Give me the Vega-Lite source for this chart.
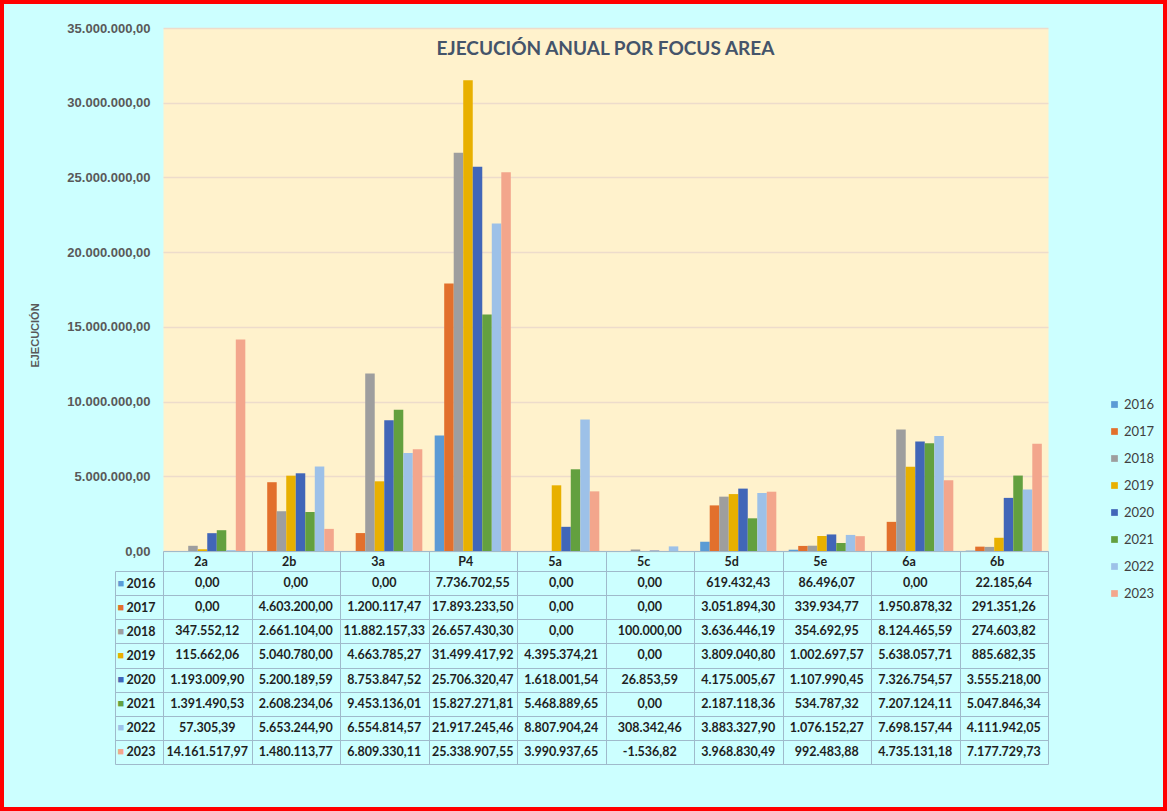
{
  "$schema": "https://vega.github.io/schema/vega-lite/v6.json",
  "width": 1167,
  "height": 811,
  "autosize": "none",
  "padding": 0,
  "background": "#CCFFFF",
  "config": {
    "view": {"fill": "#CCFFFF", "stroke": "#FF0000", "strokeWidth": 8},
    "locale": {"number": {"decimal": ",", "thousands": ".", "grouping": [3], "currency": ["", "€"], "minus": "-"}}
  },
  "title": {
    "text": "EJECUCIÓN ANUAL POR FOCUS AREA",
    "anchor": "middle",
    "dx": 22,
    "offset": -65,
    "font": "Lato",
    "fontSize": 19,
    "fontWeight": "bold",
    "color": "#44546A"
  },
  "data": {
    "values": [
      {"area": "2a", "year": "2016", "value": 0},
      {"area": "2a", "year": "2017", "value": 0},
      {"area": "2a", "year": "2018", "value": 347552.12},
      {"area": "2a", "year": "2019", "value": 115662.06},
      {"area": "2a", "year": "2020", "value": 1193009.90},
      {"area": "2a", "year": "2021", "value": 1391490.53},
      {"area": "2a", "year": "2022", "value": 57305.39},
      {"area": "2a", "year": "2023", "value": 14161517.97},
      {"area": "2b", "year": "2016", "value": 0},
      {"area": "2b", "year": "2017", "value": 4603200.00},
      {"area": "2b", "year": "2018", "value": 2661104.00},
      {"area": "2b", "year": "2019", "value": 5040780.00},
      {"area": "2b", "year": "2020", "value": 5200189.59},
      {"area": "2b", "year": "2021", "value": 2608234.06},
      {"area": "2b", "year": "2022", "value": 5653244.90},
      {"area": "2b", "year": "2023", "value": 1480113.77},
      {"area": "3a", "year": "2016", "value": 0},
      {"area": "3a", "year": "2017", "value": 1200117.47},
      {"area": "3a", "year": "2018", "value": 11882157.33},
      {"area": "3a", "year": "2019", "value": 4663785.27},
      {"area": "3a", "year": "2020", "value": 8753847.52},
      {"area": "3a", "year": "2021", "value": 9453136.01},
      {"area": "3a", "year": "2022", "value": 6554814.57},
      {"area": "3a", "year": "2023", "value": 6809330.11},
      {"area": "P4", "year": "2016", "value": 7736702.55},
      {"area": "P4", "year": "2017", "value": 17893233.50},
      {"area": "P4", "year": "2018", "value": 26657430.30},
      {"area": "P4", "year": "2019", "value": 31499417.92},
      {"area": "P4", "year": "2020", "value": 25706320.47},
      {"area": "P4", "year": "2021", "value": 15827271.81},
      {"area": "P4", "year": "2022", "value": 21917245.46},
      {"area": "P4", "year": "2023", "value": 25338907.55},
      {"area": "5a", "year": "2016", "value": 0},
      {"area": "5a", "year": "2017", "value": 0},
      {"area": "5a", "year": "2018", "value": 0},
      {"area": "5a", "year": "2019", "value": 4395374.21},
      {"area": "5a", "year": "2020", "value": 1618001.54},
      {"area": "5a", "year": "2021", "value": 5468889.65},
      {"area": "5a", "year": "2022", "value": 8807904.24},
      {"area": "5a", "year": "2023", "value": 3990937.65},
      {"area": "5c", "year": "2016", "value": 0},
      {"area": "5c", "year": "2017", "value": 0},
      {"area": "5c", "year": "2018", "value": 100000.00},
      {"area": "5c", "year": "2019", "value": 0},
      {"area": "5c", "year": "2020", "value": 26853.59},
      {"area": "5c", "year": "2021", "value": 0},
      {"area": "5c", "year": "2022", "value": 308342.46},
      {"area": "5c", "year": "2023", "value": -1536.82},
      {"area": "5d", "year": "2016", "value": 619432.43},
      {"area": "5d", "year": "2017", "value": 3051894.30},
      {"area": "5d", "year": "2018", "value": 3636446.19},
      {"area": "5d", "year": "2019", "value": 3809040.80},
      {"area": "5d", "year": "2020", "value": 4175005.67},
      {"area": "5d", "year": "2021", "value": 2187118.36},
      {"area": "5d", "year": "2022", "value": 3883327.90},
      {"area": "5d", "year": "2023", "value": 3968830.49},
      {"area": "5e", "year": "2016", "value": 86496.07},
      {"area": "5e", "year": "2017", "value": 339934.77},
      {"area": "5e", "year": "2018", "value": 354692.95},
      {"area": "5e", "year": "2019", "value": 1002697.57},
      {"area": "5e", "year": "2020", "value": 1107990.45},
      {"area": "5e", "year": "2021", "value": 534787.32},
      {"area": "5e", "year": "2022", "value": 1076152.27},
      {"area": "5e", "year": "2023", "value": 992483.88},
      {"area": "6a", "year": "2016", "value": 0},
      {"area": "6a", "year": "2017", "value": 1950878.32},
      {"area": "6a", "year": "2018", "value": 8124465.59},
      {"area": "6a", "year": "2019", "value": 5638057.71},
      {"area": "6a", "year": "2020", "value": 7326754.57},
      {"area": "6a", "year": "2021", "value": 7207124.11},
      {"area": "6a", "year": "2022", "value": 7698157.44},
      {"area": "6a", "year": "2023", "value": 4735131.18},
      {"area": "6b", "year": "2016", "value": 22185.64},
      {"area": "6b", "year": "2017", "value": 291351.26},
      {"area": "6b", "year": "2018", "value": 274603.82},
      {"area": "6b", "year": "2019", "value": 885682.35},
      {"area": "6b", "year": "2020", "value": 3555218.00},
      {"area": "6b", "year": "2021", "value": 5047846.34},
      {"area": "6b", "year": "2022", "value": 4111942.05},
      {"area": "6b", "year": "2023", "value": 7177729.73}
    ]
  },
  "layer": [
    {
      "mark": {"type": "text", "opacity": 0},
      "encoding": {
        "x": {
          "field": "area",
          "type": "nominal",
          "sort": ["2a", "2b", "3a", "P4", "5a", "5c", "5d", "5e", "6a", "6b"],
          "scale": {"domain": ["2a", "2b", "3a", "P4", "5a", "5c", "5d", "5e", "6a", "6b"], "range": [163, 1048], "paddingInner": 0, "paddingOuter": 0}
        },
        "y": {
          "datum": 0,
          "type": "quantitative",
          "scale": {"domain": [0, 35000000], "range": [551, 28], "nice": false},
          "axis": {"values": [17500000], "grid": true, "gridColor": "#FFF2CC", "gridOpacity": 1, "gridWidth": 523, "labels": false, "ticks": false, "domain": false, "title": null}
        },
        "text": {"value": ""}
      }
    },
    {
      "mark": {"type": "bar"},
      "encoding": {
        "x": {
          "field": "area",
          "type": "nominal",
          "sort": ["2a", "2b", "3a", "P4", "5a", "5c", "5d", "5e", "6a", "6b"],
          "scale": {"domain": ["2a", "2b", "3a", "P4", "5a", "5c", "5d", "5e", "6a", "6b"], "range": [163, 1048], "paddingInner": 0, "paddingOuter": 0},
          "axis": {
            "orient": "bottom", "offset": -260, "title": null, "labelAngle": 0,
            "tickBand": "extent", "tickSize": 213, "tickColor": "#9FBACB", "domainColor": "#9FBACB",
            "labelPadding": -203, "labelBaseline": "middle", "labelFont": "Lato", "labelFontWeight": "bold",
            "labelFontSize": 12.5, "labelColor": "#1F1F1F", "grid": false
          }
        },
        "xOffset": {"field": "year", "type": "nominal", "scale": {"paddingInner": 0, "paddingOuter": 0.65}},
        "y": {
          "field": "value",
          "type": "quantitative",
          "scale": {"domain": [0, 35000000], "range": [551, 28], "nice": false},
          "axis": {
            "orient": "left", "offset": -163,
            "values": [0, 5000000, 10000000, 15000000, 20000000, 25000000, 30000000, 35000000],
            "format": ",.2f", "labelFont": "Liberation Sans", "labelFontWeight": "bold", "labelFontSize": 13,
            "labelColor": "#595959", "labelPadding": 13, "ticks": false, "domain": false,
            "grid": true, "gridColor": "#EDDCCB", "gridWidth": 1.5,
            "title": "EJECUCIÓN", "titleFont": "Liberation Sans", "titleFontSize": 11, "titleFontWeight": "bold",
            "titleColor": "#595959", "titlePadding": 26, "titleY": 335
          }
        },
        "color": {
          "field": "year",
          "type": "nominal",
          "scale": {
            "domain": ["2016", "2017", "2018", "2019", "2020", "2021", "2022", "2023"],
            "range": ["#5B9BD5", "#E2702C", "#9E9E9E", "#E8B000", "#4166B8", "#63A03F", "#9DC1E8", "#F3A68C"]
          },
          "legend": {
            "orient": "none", "legendX": 1108, "legendY": 398, "title": null,
            "symbolType": "square", "symbolSize": 45, "symbolStrokeWidth": 0,
            "labelFont": "Lato", "labelFontSize": 13, "labelColor": "#404040",
            "rowPadding": 13, "labelOffset": 3, "padding": 0
          }
        }
      }
    },
    {
      "mark": {"type": "text", "font": "Lato", "fontWeight": "bold", "fontSize": 12.5, "color": "#1F1F1F"},
      "encoding": {
        "x": {"field": "area", "type": "nominal"},
        "y": {
          "field": "year",
          "type": "nominal",
          "scale": {"range": [571, 764], "paddingInner": 0, "paddingOuter": 0},
          "axis": {
            "orient": "left", "offset": -163, "title": null, "tickBand": "extent", "tickSize": 48,
            "tickColor": "#9FBACB", "domain": false, "grid": true, "gridColor": "#9FBACB", "gridOpacity": 1,
            "labelAlign": "left", "labelPadding": -11, "labelFont": "Lato", "labelFontWeight": "bold",
            "labelFontSize": 12.5, "labelColor": "#1F1F1F"
          }
        },
        "text": {"field": "value", "type": "quantitative", "format": ",.2f"}
      }
    },
    {
      "mark": {"type": "text", "opacity": 0},
      "encoding": {
        "y": {
          "field": "year",
          "type": "nominal",
          "scale": {"range": [571, 764], "paddingInner": 0, "paddingOuter": 0},
          "axis": {
            "orient": "left", "offset": -115, "title": null, "ticks": false, "grid": false,
            "domain": true, "domainColor": "#9FBACB", "labelExpr": "'■'", "labelAlign": "left",
            "labelPadding": -2, "labelFontSize": 11,
            "labelColor": {
              "condition": [
                {"test": "datum.value == '2016'", "value": "#5B9BD5"},
                {"test": "datum.value == '2017'", "value": "#E2702C"},
                {"test": "datum.value == '2018'", "value": "#9E9E9E"},
                {"test": "datum.value == '2019'", "value": "#E8B000"},
                {"test": "datum.value == '2020'", "value": "#4166B8"},
                {"test": "datum.value == '2021'", "value": "#63A03F"},
                {"test": "datum.value == '2022'", "value": "#9DC1E8"}
              ],
              "value": "#F3A68C"
            }
          }
        },
        "text": {"value": ""}
      }
    }
  ],
  "resolve": {"scale": {"y": "independent"}, "axis": {"y": "independent"}}
}
